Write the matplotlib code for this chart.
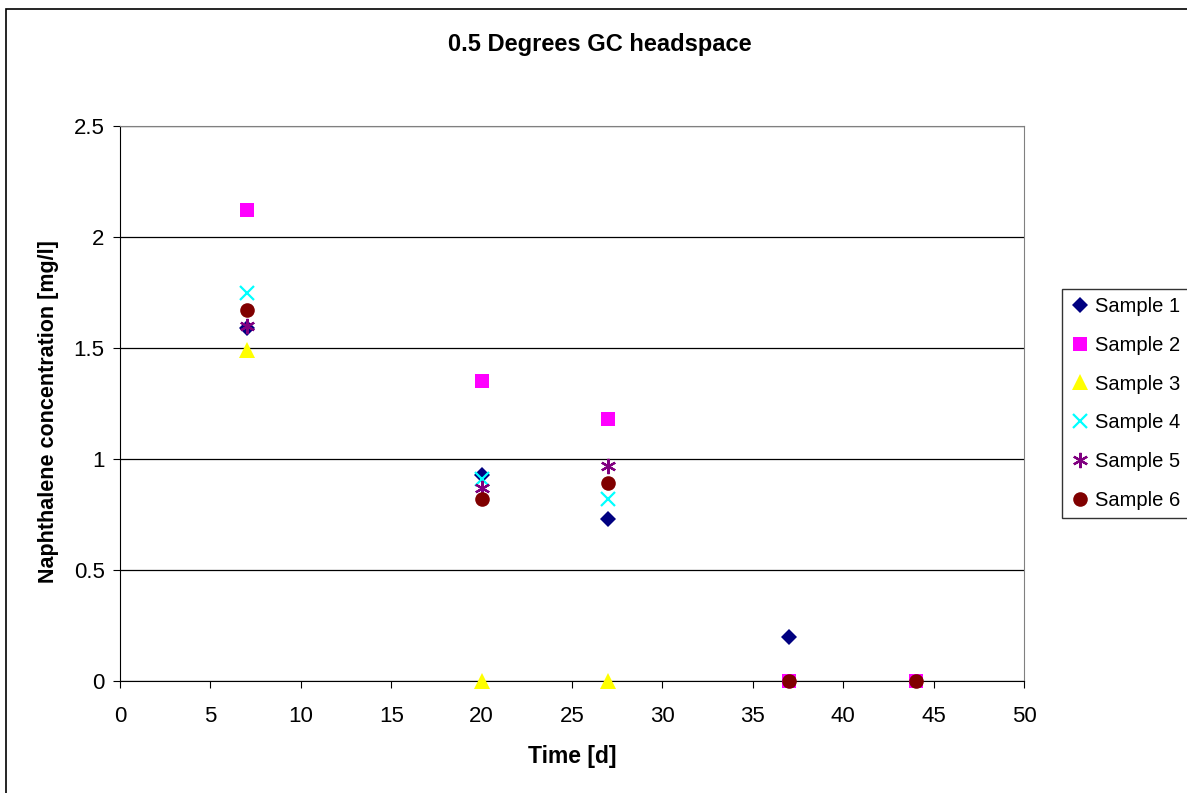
import matplotlib.pyplot as plt
from matplotlib.patches import Rectangle

nan = float('nan')
plt.rcParams['font.family'] = ['Liberation Sans', 'DejaVu Sans']

# time points [d]
days = [7, 20, 27, 37, 44]

# naphthalene concentration [mg/l] per sample (nan = no point shown)
sample1 = [1.59, 0.93, 0.73, 0.20, nan]
sample2 = [2.12, 1.35, 1.18, 0.0, 0.0]
sample3 = [1.49, 0.0, 0.0, nan, nan]
sample4 = [1.75, 0.91, 0.82, nan, nan]
sample5 = [1.60, 0.87, 0.97, nan, nan]
sample6 = [1.67, 0.82, 0.89, 0.0, 0.0]

names = ["Sample 1", "Sample 2", "Sample 3", "Sample 4", "Sample 5", "Sample 6"]
series = [sample1, sample2, sample3, sample4, sample5, sample6]

fig = plt.figure(figsize=(11.87, 7.93), dpi=100)
ax = fig.add_axes([0.1011, 0.1412, 0.7616, 0.6999])

# outer chart frame (cut off at right/bottom like the original)
fig.patches.append(Rectangle((6/1187, -0.1), 1.2, 1 - 9/793 + 0.1, transform=fig.transFigure,
                             fill=False, edgecolor='black', linewidth=1.2))

styles = [
    dict(marker='D', color='#000080', ms=8, mew=0),
    dict(marker='s', color='#FF00FF', ms=10, mew=0),
    dict(marker='^', color='#FFFF00', ms=11, mew=0),
    dict(marker='x', color='#00FFFF', ms=10, mew=1.6),
    dict(marker=(6, 2, 0), color='#800080', ms=11, mew=1.6),
    dict(marker='o', color='#800000', ms=10.5, mew=0),
]

for name, vals, st in zip(names, series, styles):
    ax.plot(days, vals, linestyle='none', marker=st['marker'], color=st['color'],
            markersize=st['ms'], markeredgewidth=st['mew'], label=name, clip_on=False, zorder=3)

ax.set_xlim(0, 50)
ax.set_ylim(0, 2.5)
ax.set_xticks(range(0, 51, 5))
ax.set_yticks([0, 0.5, 1, 1.5, 2, 2.5])
ax.set_yticklabels(['0', '0.5', '1', '1.5', '2', '2.5'])
ax.yaxis.grid(True, color='black', linewidth=0.9)
ax.set_axisbelow(True)

for s in ['top', 'right']:
    ax.spines[s].set_color('#808080')
ax.spines['left'].set_color('black')
ax.spines['bottom'].set_color('black')
ax.tick_params(direction='out', length=5, labelsize=16, colors='black')
ax.tick_params(axis='x', pad=13)
ax.tick_params(axis='y', pad=6)

fig.text(600/1187, 1 - 45/793, "0.5 Degrees GC headspace", fontsize=17, fontweight='bold',
         ha='center', va='center')
ax.set_xlabel("Time [d]", fontsize=16.5, fontweight='bold', labelpad=13)
ax.set_ylabel("Naphthalene concentration [mg/l]", fontsize=15.5, fontweight='bold')
ax.yaxis.set_label_coords(-0.068, 0.485)

leg = fig.legend(loc='upper left', bbox_to_anchor=(1062/1187, 1 - 289/793), fontsize=14.5,
                 frameon=True, fancybox=False, edgecolor='black', labelspacing=0.98,
                 handletextpad=0.25, handlelength=1.0, borderpad=0.4, borderaxespad=0)
leg.get_frame().set_linewidth(1.0)

fig.savefig("out.png", dpi=100)
